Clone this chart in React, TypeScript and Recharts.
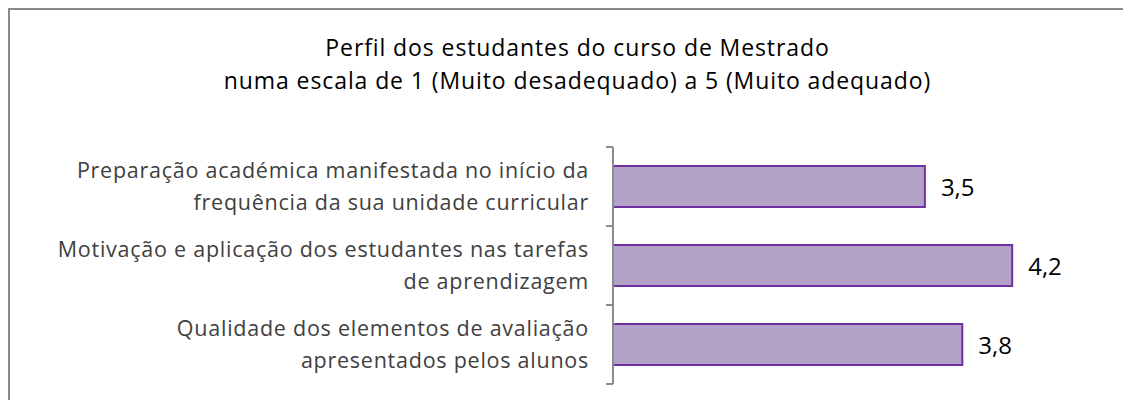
import React from 'react';
import { BarChart, Bar, XAxis, YAxis, LabelList } from 'recharts';

const categories = [
  'Preparação académica manifestada no início da|frequência da sua unidade curricular',
  'Motivação e aplicação dos estudantes nas tarefas|de aprendizagem',
  'Qualidade dos elementos de avaliação|apresentados pelos alunos',
];
const scores = [3.5, 4.2, 3.8];

const data = categories.map((name, i) => ({ name, value: scores[i] }));

const FONT = '"Open Sans", sans-serif';

const CategoryTick = (props: any) => {
  const { x, y, payload, index } = props;
  const lines = String(payload.value).split('|');
  const band = 79;
  const axisX = x + 8;
  return (
    <g>
      <line x1={axisX - 7} x2={axisX} y1={y - band / 2} y2={y - band / 2} stroke="#8c8c8c" strokeWidth={2} />
      {index === categories.length - 1 && (
        <line x1={axisX - 7} x2={axisX} y1={y + band / 2} y2={y + band / 2} stroke="#8c8c8c" strokeWidth={2} />
      )}
      <text textAnchor="end" fill="#404040" fontSize={21.5} letterSpacing={0.75} fontFamily={FONT}>
        {lines.map((l, i) => (
          <tspan key={i} x={x - 16} y={y - 16 * (lines.length - 1) + 32 * i + 7}>
            {l}
          </tspan>
        ))}
      </text>
    </g>
  );
};

const ValueLabel = (props: any) => {
  const { x, y, width, height, value } = props;
  return (
    <text
      x={x + width + 16}
      y={y + height / 2 + 9.5}
      fill="#000"
      fontSize={24}
      fontFamily={FONT}
    >
      {String(value).replace('.', ',')}
    </text>
  );
};

export default function App() {
  return (
    <div
      style={{
        position: 'relative',
        width: 1123,
        height: 392,
        borderTop: '2px solid #8a8a8a',
        borderLeft: '2px solid #8a8a8a',
        boxSizing: 'border-box',
        fontFamily: FONT,
      }}
    >
      <div
        style={{
          position: 'absolute',
          top: 21,
          left: 0,
          width: 1135,
          textAlign: 'center',
          fontSize: 23,
          letterSpacing: 0.9,
          lineHeight: '33px',
          color: '#000',
        }}
      >
        Perfil dos estudantes do curso de Mestrado
        <br />
        numa escala de 1 (Muito desadequado) a 5 (Muito adequado)
      </div>
      <BarChart
        width={1121}
        height={390}
        data={data}
        layout="vertical"
        margin={{ top: 137, right: 19, left: 0, bottom: 16 }}
      >
        <XAxis type="number" domain={[1, 5]} hide allowDataOverflow />
        <YAxis
          type="category"
          dataKey="name"
          width={603}
          axisLine={{ stroke: '#8c8c8c', strokeWidth: 2 }}
          tickLine={false}
          tick={<CategoryTick />}
          interval={0}
        />
        <Bar
          dataKey="value"
          fill="#b3a2c7"
          stroke="#7030a0"
          strokeWidth={2}
          barSize={41}
          isAnimationActive={false}
        >
          <LabelList dataKey="value" content={<ValueLabel />} />
        </Bar>
      </BarChart>
    </div>
  );
}
